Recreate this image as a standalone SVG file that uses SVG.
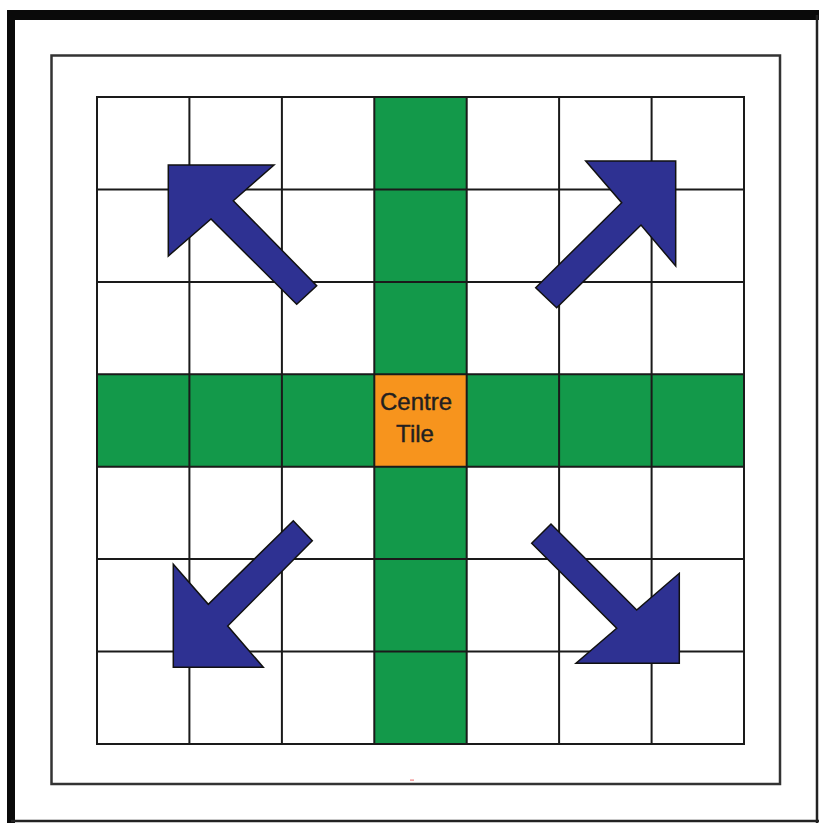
<svg xmlns="http://www.w3.org/2000/svg" width="819" height="823" viewBox="0 0 819 823">
<style>
.arrow{fill:#2E3192;stroke:#111;stroke-width:1.5;stroke-linejoin:miter}
.grid{stroke:#1a1a1a;stroke-width:2;fill:none}
.green{fill:#13994A}
.lbl{font-family:"Liberation Sans",Arial,sans-serif;font-size:24px;fill:#231F20;stroke:#231F20;stroke-width:0.4;text-anchor:middle}
</style>
<rect width="819" height="823" fill="#fff"/>
<g id="frame">
<rect x="7" y="10" width="8" height="813" fill="#0a0a0a"/>
<rect x="7" y="10" width="812" height="10" fill="#0a0a0a"/>
<line x1="817" y1="15" x2="817" y2="823" stroke="#222" stroke-width="2.5"/>
<line x1="11" y1="821" x2="819" y2="821" stroke="#222" stroke-width="2.5"/>
<rect x="51.5" y="55.5" width="728.5" height="728.5" fill="none" stroke="#333" stroke-width="2.5"/>
</g>
<g id="board">
<rect class="green" x="374.3" y="97" width="92.4" height="647"/>
<rect class="green" x="97" y="374.3" width="647" height="92.4"/>
<g id="centre">
<rect x="374.3" y="374.3" width="92.4" height="92.4" fill="#F7941D"/>
</g>
<path class="grid" d="M189.4 97V744M281.9 97V744M374.3 97V744M466.7 97V744M559.1 97V744M651.6 97V744M97 189.4H744M97 281.9H744M97 374.3H744M97 466.7H744M97 559.1H744M97 651.6H744"/>
<rect class="grid" x="97" y="97" width="647" height="647"/>
<text class="lbl" x="416" y="410">Centre</text>
<text class="lbl" x="415" y="442">Tile</text>
</g>
<g id="arrows">
<polygon id="arrow-nw" class="arrow" points="168.3,165 274,165 233.3,200.7 316.7,285.7 296.7,304.3 211,219 168.3,256"/>
<polygon id="arrow-ne" class="arrow" points="675.7,161 585.7,161 621.7,202.7 535.7,287.7 556.7,307.7 641,225 675.7,266"/>
<polygon id="arrow-sw" class="arrow" points="173.3,667.3 173.3,564.3 208.3,604.3 293.3,520.7 312.3,540.7 227.7,626 263.3,667.3"/>
<polygon id="arrow-se" class="arrow" points="679.3,663.3 679.3,573.3 636.7,610 551,524 531.7,543.3 616.7,628.3 576,663.3"/>
</g>
<rect x="410" y="779.5" width="4" height="1.2" fill="#f08080"/>
</svg>
